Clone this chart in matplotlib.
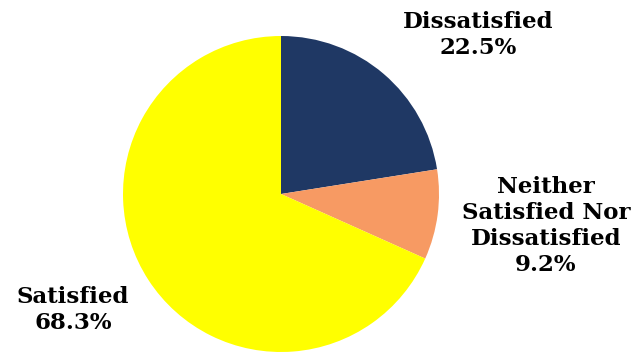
import matplotlib
matplotlib.use('Agg')
import matplotlib.pyplot as plt

labels = ['Dissatisfied', 'Neither\nSatisfied Nor\nDissatisfied', 'Satisfied']
values = [22.5, 9.2, 68.3]
colors = ['#1F3864', '#F79A63', '#FFFF00']

fig = plt.figure(figsize=(6.36, 3.53), dpi=100)
ax = fig.add_axes([0, 0, 1, 1])

ax.pie(values, colors=colors, startangle=90, counterclock=False,
       center=(281, 159), radius=158, frame=True)
ax.set_xlim(0, 636)
ax.set_ylim(0, 353)
ax.axis('off')

# label positions (pixels, y up)
pos = [(478, 318), (546, 127), (73, 43)]
for lab, v, (x, y) in zip(labels, values, pos):
    ax.text(x, y, f'{lab}\n{v:.1f}%', ha='center', va='center',
            fontsize=16.5, fontweight='bold', family='DejaVu Serif',
            linespacing=1.25)

fig.savefig('out.png', dpi=100)
